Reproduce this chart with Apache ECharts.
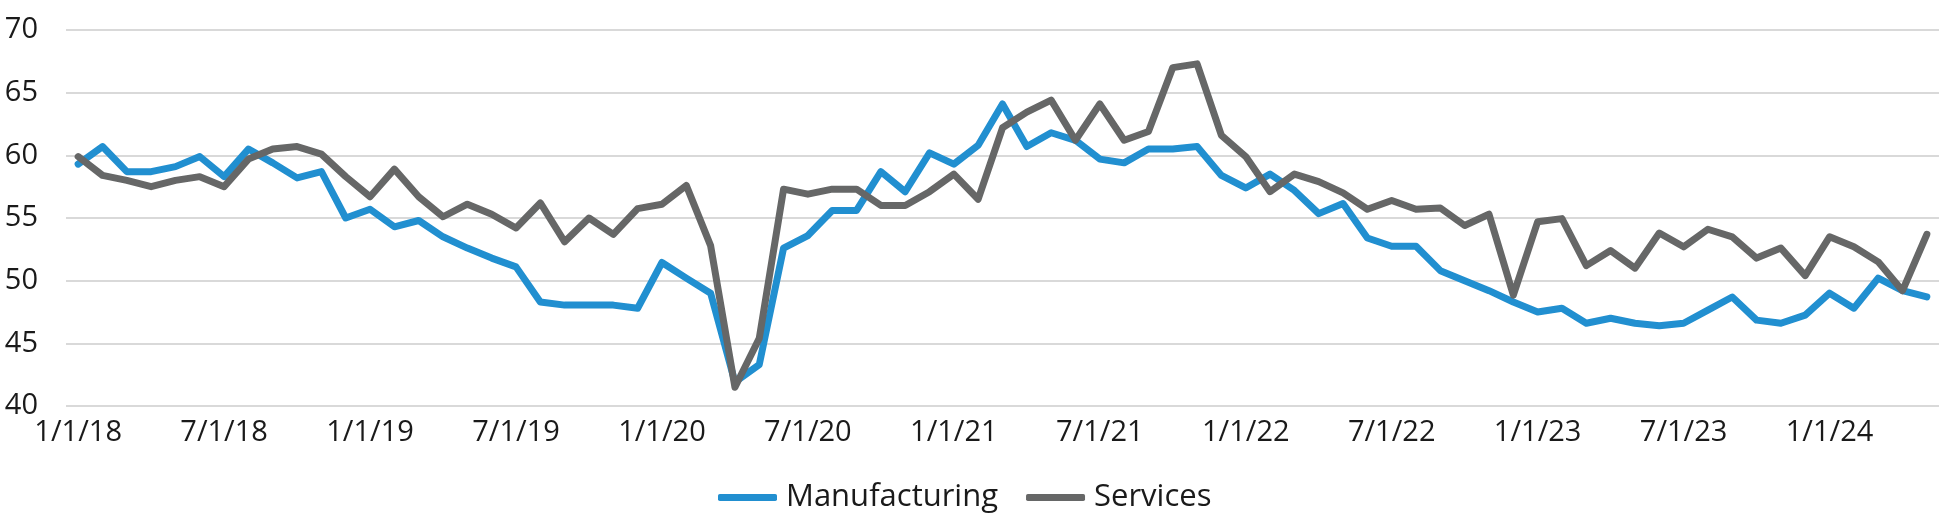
<!DOCTYPE html>
<html>
<head>
<meta charset="utf-8">
<script src="https://cdn.jsdelivr.net/npm/echarts@6/dist/echarts.min.js"></script>
<style>
  html, body { margin: 0; padding: 0; background: #ffffff; }
  #chart { width: 1939px; height: 524px; }
</style>
</head>
<body>
<div id="chart"></div>
<script>
const categories = [
  "1/1/18","2/1/18","3/1/18","4/1/18","5/1/18","6/1/18","7/1/18","8/1/18","9/1/18","10/1/18","11/1/18","12/1/18",
  "1/1/19","2/1/19","3/1/19","4/1/19","5/1/19","6/1/19","7/1/19","8/1/19","9/1/19","10/1/19","11/1/19","12/1/19",
  "1/1/20","2/1/20","3/1/20","4/1/20","5/1/20","6/1/20","7/1/20","8/1/20","9/1/20","10/1/20","11/1/20","12/1/20",
  "1/1/21","2/1/21","3/1/21","4/1/21","5/1/21","6/1/21","7/1/21","8/1/21","9/1/21","10/1/21","11/1/21","12/1/21",
  "1/1/22","2/1/22","3/1/22","4/1/22","5/1/22","6/1/22","7/1/22","8/1/22","9/1/22","10/1/22","11/1/22","12/1/22",
  "1/1/23","2/1/23","3/1/23","4/1/23","5/1/23","6/1/23","7/1/23","8/1/23","9/1/23","10/1/23","11/1/23","12/1/23",
  "1/1/24","2/1/24","3/1/24","4/1/24","5/1/24"
];

const manufacturing = [
  59.3, 60.7, 58.7, 58.7, 59.1, 59.9, 58.3, 60.5, 59.4, 58.2, 58.7, 55.0,
  55.7, 54.3, 54.8, 53.5, 52.6, 51.8, 51.1, 48.3, 48.05, 48.05, 48.05, 47.8,
  51.45, 50.2, 49.0, 41.9, 43.3, 52.6, 53.6, 55.6, 55.6, 58.7, 57.1, 60.2,
  59.3, 60.8, 64.1, 60.7, 61.8, 61.2, 59.7, 59.4, 60.5, 60.5, 60.7, 58.4,
  57.4, 58.5, 57.2, 55.35, 56.15, 53.4, 52.75, 52.75, 50.8, 50.0, 49.2, 48.3,
  47.5, 47.8, 46.6, 47.0, 46.6, 46.4, 46.6, 47.65, 48.7, 46.85, 46.6, 47.25,
  49.0, 47.8, 50.2, 49.2, 48.7
];

const services = [
  59.9, 58.4, 58.0, 57.5, 58.0, 58.3, 57.5, 59.7, 60.5, 60.7, 60.1, 58.3,
  56.7, 58.9, 56.7, 55.1, 56.1, 55.3, 54.2, 56.2, 53.1, 55.0, 53.7, 55.75,
  56.1, 57.6, 52.8, 41.5, 45.4, 57.3, 56.9, 57.3, 57.3, 56.0, 56.0, 57.1,
  58.5, 56.5, 62.2, 63.45, 64.4, 61.2, 64.1, 61.2, 61.9, 67.0, 67.3, 61.6,
  59.9, 57.1, 58.5, 57.9, 57.0, 55.7, 56.4, 55.7, 55.8, 54.4, 55.3, 48.85,
  54.7, 54.95, 51.2, 52.4, 51.0, 53.8, 52.7, 54.1, 53.5, 51.8, 52.6, 50.4,
  53.5, 52.7, 51.5, 49.2, 53.7
];

const seriesNames = ["Manufacturing", "Services"];
const yTicks = { min: 40, max: 70, step: 5 };

const FONT = "'Open Sans', 'Roboto', 'DejaVu Sans', sans-serif";
const chart = echarts.init(document.getElementById('chart'), null, { renderer: 'canvas' });

chart.setOption({
  animation: false,
  backgroundColor: '#ffffff',
  grid: { left: 66, right: 0, top: 30, bottom: 118, containLabel: false },
  legend: {
    data: seriesNames,
    left: 713,
    top: 477,
    itemWidth: 59,
    itemHeight: 7,
    itemGap: 28,
    icon: 'roundRect',
    textStyle: { fontFamily: FONT, fontSize: 31, color: '#1a1a1a', padding: [0, 0, 0, 4] }
  },
  xAxis: {
    type: 'category',
    data: categories,
    boundaryGap: true,
    axisLine: { show: false },
    axisTick: { show: false },
    axisLabel: {
      interval: 5,
      margin: 12,
      fontFamily: FONT,
      fontSize: 29,
      color: '#1a1a1a'
    },
    splitLine: { show: false }
  },
  yAxis: {
    type: 'value',
    min: yTicks.min,
    max: yTicks.max,
    interval: yTicks.step,
    axisLine: { show: false },
    axisTick: { show: false },
    axisLabel: {
      margin: 28,
      fontFamily: FONT,
      fontSize: 29,
      color: '#1a1a1a',
      padding: [0, 0, 9, 0]
    },
    splitLine: { show: true, lineStyle: { color: '#d9d9d9', width: 2 } }
  },
  series: [
    {
      name: seriesNames[0],
      type: 'line',
      data: manufacturing,
      showSymbol: false,
      symbol: 'none',
      color: '#218fd0',
      lineStyle: { color: '#218fd0', width: 7, cap: 'round', join: 'round' }
    },
    {
      name: seriesNames[1],
      type: 'line',
      data: services,
      showSymbol: false,
      symbol: 'none',
      color: '#666767',
      lineStyle: { color: '#666767', width: 7, cap: 'round', join: 'round' }
    }
  ]
});
</script>
</body>
</html>
